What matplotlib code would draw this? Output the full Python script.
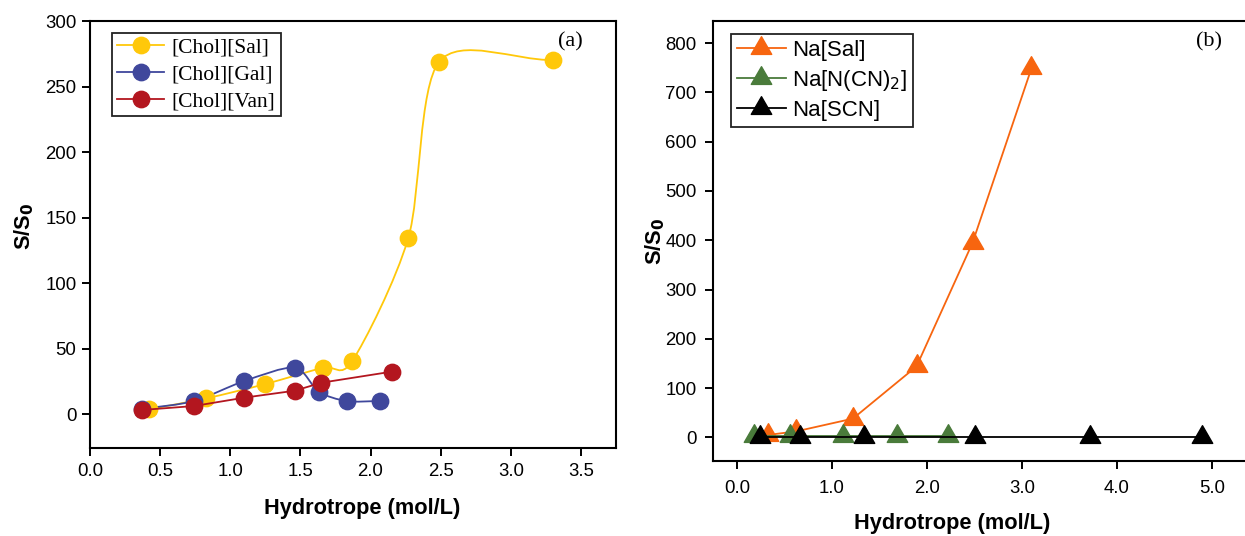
import numpy as np
import matplotlib.pyplot as plt
from matplotlib.path import Path
from matplotlib.patches import PathPatch
from matplotlib.lines import Line2D

# panel (a): choline hydrotropes
chol_labels = ['[Chol][Sal]', '[Chol][Gal]', '[Chol][Van]']
sal_x = [0.42, 0.83, 1.25, 1.66, 1.87, 2.27, 2.49, 3.30]
sal_y = [3.8, 12.2, 23.1, 35.6, 40.7, 134.7, 269.0, 270.2]
gal_x = [0.37, 0.74, 1.10, 1.46, 1.63, 1.83, 2.07]
gal_y = [4.0, 10.1, 25.4, 35.6, 17.3, 10.1, 10.1]
van_x = [0.37, 0.74, 1.10, 1.46, 1.65, 2.15]
van_y = [3.3, 6.3, 12.7, 18.0, 24.1, 32.5]

# panel (b): sodium salts
na_labels = ['Na[Sal]', 'Na[N(CN)$_2$]', 'Na[SCN]']
nasal_x = [0.33, 0.62, 1.22, 1.89, 2.48, 3.10]
nasal_y = [5, 12, 38, 144, 395, 749]
nadca_x = [0.175, 0.56, 1.12, 1.68, 2.22]
nadca_y = [2, 2, 2, 2, 2]
nascn_x = [0.245, 0.66, 1.34, 2.51, 3.72, 4.90]
nascn_y = [0, 0, 0, 0, 0, 0]

yellow, blue, red = '#FFC80A', '#3F479C', '#B3161F'
orange, green = '#F7650F', '#4A7B3B'

# triangle centred on its centroid, like the original software draws it
tri = Path([(0, 1), (-0.866, -0.5), (0.866, -0.5), (0, 1)],
           [Path.MOVETO, Path.LINETO, Path.LINETO, Path.CLOSEPOLY])


def smooth_path(x, y, tension=0.15):
    # cardinal spline through the points, as cubic Bezier segments
    P = np.column_stack([x, y]).astype(float)
    T = np.empty_like(P)
    T[1:-1] = (1 - tension) * (P[2:] - P[:-2]) / 2
    T[0] = P[1] - P[0]
    T[-1] = P[-1] - P[-2]
    verts = [P[0]]
    codes = [Path.MOVETO]
    for i in range(len(P) - 1):
        verts += [P[i] + T[i] / 3, P[i + 1] - T[i + 1] / 3, P[i + 1]]
        codes += [Path.CURVE4] * 3
    return Path(verts, codes)


plt.rcParams['font.family'] = ['Liberation Sans', 'DejaVu Sans']

fig = plt.figure(figsize=(12.45, 5.36), dpi=100)
axa = fig.add_axes([90 / 1245, 88 / 536, 526 / 1245, 427 / 536])
axb = fig.add_axes([713 / 1245, 75 / 536, 535 / 1245, 440 / 536])

lw = 1.3
ms_c = 11.8
ms_t = 17

# ---- (a)
for xs, ys, c, smooth in [(sal_x, sal_y, yellow, True),
                          (gal_x, gal_y, blue, True),
                          (van_x, van_y, red, False)]:
    if smooth:
        axa.add_patch(PathPatch(smooth_path(xs, ys), fill=False, edgecolor=c, lw=lw))
        axa.plot(xs, ys, 'o', color=c, ms=ms_c, mec=c)
    else:
        axa.plot(xs, ys, '-o', color=c, ms=ms_c, mec=c, lw=lw)

axa.set_xlim(0, 3.75)
axa.set_ylim(-25.7, 300)
axa.set_xticks(np.arange(0, 3.51, 0.5))
axa.set_xticklabels([f'{v:.1f}' for v in np.arange(0, 3.51, 0.5)])
axa.set_yticks(np.arange(0, 301, 50))
axa.tick_params(axis='x', pad=5)
axa.tick_params(axis='y', pad=4)

ha = [Line2D([], [], color=c, marker='o', ms=ms_c, lw=lw) for c in (yellow, blue, red)]
leg = axa.legend(ha, chol_labels, loc='upper left', bbox_to_anchor=(0.041, 0.973),
                 borderaxespad=0, prop={'family': 'Liberation Serif', 'size': 15.5},
                 handlelength=2.2, handletextpad=0.35, labelspacing=0.3,
                 borderpad=0.25, fancybox=False, framealpha=1, edgecolor='#222222')
leg.get_frame().set_linewidth(1.3)
axa.text(0.9125, 0.951, '(a)', transform=axa.transAxes, ha='center', va='center',
         family='Liberation Serif', fontsize=16)
axa.set_xlabel('Hydrotrope (mol/L)', fontsize=15.7, fontweight='bold')
axa.set_ylabel('S/S$_\\mathbf{0}$', fontsize=15.7, fontweight='bold')
axa.xaxis.set_label_coords(0.517, -0.117)
axa.yaxis.set_label_coords(-0.102, 0.52)

# ---- (b)
for xs, ys, c in [(nasal_x, nasal_y, orange), (nadca_x, nadca_y, green),
                  (nascn_x, nascn_y, 'black')]:
    axb.plot(xs, ys, '-', color=c, lw=lw, marker=tri, ms=ms_t, mec=c)

axb.set_xlim(-0.253, 5.38)
axb.set_ylim(-48, 845)
axb.set_xticks(np.arange(0, 5.1, 1.0))
axb.set_xticklabels([f'{v:.1f}' for v in np.arange(0, 5.1, 1.0)])
axb.set_yticks(np.arange(0, 801, 100))
axb.tick_params(axis='x', pad=8)
axb.tick_params(axis='y', pad=6)

hb = [Line2D([], [], color=c, marker=tri, ms=ms_t, lw=lw) for c in (orange, green, 'black')]
leg = axb.legend(hb, na_labels, loc='upper left', bbox_to_anchor=(0.034, 0.97),
                 borderaxespad=0, prop={'size': 16}, handlelength=2.2,
                 handletextpad=0.3, labelspacing=0.32, borderpad=0.25,
                 fancybox=False, framealpha=1, edgecolor='#222222')
leg.get_frame().set_linewidth(1.3)
axb.text(0.928, 0.952, '(b)', transform=axb.transAxes, ha='center', va='center',
         family='Liberation Serif', fontsize=16)
axb.set_xlabel('Hydrotrope (mol/L)', fontsize=15.7, fontweight='bold')
axb.set_ylabel('S/S$_\\mathbf{0}$', fontsize=15.7, fontweight='bold')
axb.xaxis.set_label_coords(0.447, -0.118)
axb.yaxis.set_label_coords(-0.086, 0.50)

for ax in (axa, axb):
    for s in ax.spines.values():
        s.set_linewidth(1.5)
    ax.tick_params(direction='out', length=5.8, width=1.4, labelsize=13.4,
                   top=False, right=False)

fig.savefig('out.png', dpi=100)
